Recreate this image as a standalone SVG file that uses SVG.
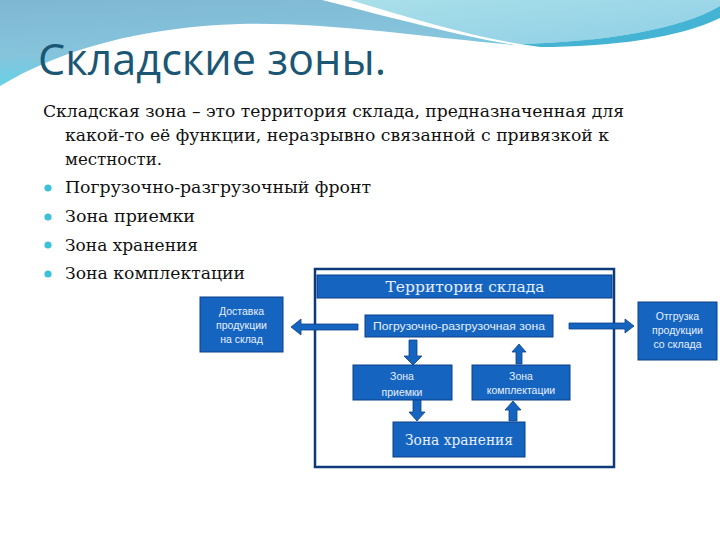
<svg xmlns="http://www.w3.org/2000/svg" width="720" height="540" viewBox="0 0 720 540">
<defs>
<linearGradient id="gLeft" x1="0" y1="0" x2="0.3" y2="1">
<stop offset="0" stop-color="#7fb7d2"/>
<stop offset="0.6" stop-color="#86c4dc"/>
<stop offset="1" stop-color="#5fd3e8"/>
</linearGradient>
<linearGradient id="gRight" x1="0" y1="0" x2="1" y2="1">
<stop offset="0" stop-color="#a9dfe9"/>
<stop offset="1" stop-color="#8fcfe6"/>
</linearGradient>
<style>
.title{font-family:"Open Sans","Liberation Sans",sans-serif;font-size:44px;fill:#1b5774}
.body{font-family:"DejaVu Serif","Liberation Serif",serif;font-size:17.5px;fill:#111}
.bul{fill:#3cc1d8}
.box{fill:#1565c0;stroke:#0c3f8a;stroke-width:1}
.arr{fill:#1565c0;stroke:#0c3f8a;stroke-width:0.8}
.lbl{font-family:"Liberation Sans","Open Sans",sans-serif;font-size:10.5px;fill:#e6efff;text-anchor:middle}
.lblb{font-family:"DejaVu Serif","Liberation Serif",serif;font-size:14px;fill:#e6efff;text-anchor:middle}
.frame{fill:#fff;stroke:#0d3b7a;stroke-width:2.5}
</style>
</defs>
<rect width="720" height="540" fill="#fff"/>
<!-- header waves -->
<path d="M0,0 H322 C400,20 465,37 515,45 C430,38 330,22 240,24 C140,27 60,50 0,86 Z" fill="url(#gLeft)"/>
<path d="M350,0 H720 V6 C680,30 600,42 520,44 C470,36 410,18 350,0 Z" fill="url(#gRight)"/>
<path d="M520,44 C600,42 680,30 720,6 V18 C680,38 610,47 540,47 Z" fill="#45b3d3"/>
<text class="title" x="38" y="75" textLength="348" lengthAdjust="spacingAndGlyphs">Складские зоны.</text>
<g id="body-text">
<text class="body" x="43" y="117" textLength="581" lengthAdjust="spacingAndGlyphs">Складская зона – это территория склада,  предназначенная для</text>
<text class="body" x="65" y="141" textLength="544" lengthAdjust="spacingAndGlyphs">какой-то её функции, неразрывно связанной с привязкой к</text>
<text class="body" x="65" y="165" textLength="97" lengthAdjust="spacingAndGlyphs">местности.</text>
<circle class="bul" cx="48" cy="188" r="3.6"/>
<text class="body" x="65" y="193" textLength="306" lengthAdjust="spacingAndGlyphs">Погрузочно-разгрузочный фронт</text>
<circle class="bul" cx="48" cy="217" r="3.6"/>
<text class="body" x="65" y="222" textLength="130" lengthAdjust="spacingAndGlyphs">Зона приемки</text>
<circle class="bul" cx="48" cy="245" r="3.6"/>
<text class="body" x="65" y="251" textLength="133" lengthAdjust="spacingAndGlyphs">Зона хранения</text>
<circle class="bul" cx="48" cy="274" r="3.6"/>
<text class="body" x="65" y="279" textLength="180" lengthAdjust="spacingAndGlyphs">Зона комплектации</text>
</g>
<g id="territory">
<rect class="frame" x="315" y="269" width="299" height="198"/>
<rect class="box" x="317" y="275" width="295" height="23"/>
<text class="lblb" x="465" y="292" textLength="159" lengthAdjust="spacingAndGlyphs">Территория склада</text>
</g>
<g id="delivery">
<rect class="box" x="200" y="297" width="83" height="55"/>
<text class="lbl" x="241.5" y="315">Доставка</text>
<text class="lbl" x="241.5" y="329">продукции</text>
<text class="lbl" x="241.5" y="343">на склад</text>
</g>
<g id="shipment">
<rect class="box" x="638" y="302" width="79" height="58"/>
<text class="lbl" x="677.5" y="320">Отгрузка</text>
<text class="lbl" x="677.5" y="334">продукции</text>
<text class="lbl" x="677.5" y="348">со склада</text>
</g>
<g id="loading">
<rect class="box" x="365" y="315" width="188" height="22"/>
<text class="lbl" x="459" y="330" textLength="172" lengthAdjust="spacingAndGlyphs">Погрузочно-разгрузочная зона</text>
</g>
<g id="receiving">
<rect class="box" x="353" y="365" width="99" height="35"/>
<text class="lbl" x="402" y="380">Зона</text>
<text class="lbl" x="402" y="396">приемки</text>
</g>
<g id="picking">
<rect class="box" x="472" y="365" width="98" height="35"/>
<text class="lbl" x="521" y="380">Зона</text>
<text class="lbl" x="521" y="394">комплектации</text>
</g>
<g id="storage">
<rect class="box" x="393" y="422" width="132" height="35"/>
<text class="lblb" x="459" y="445" textLength="108" lengthAdjust="spacingAndGlyphs">Зона хранения</text>
</g>
<g id="connectors">
<polygon class="arr" points="358,324 301,324 301,319 291,327 301,335 301,330 358,330"/>
<polygon class="arr" points="569,323 625,323 625,319 634,326 625,333 625,329 569,329"/>
<polygon class="arr" points="409,340 417,340 417,356 422,356 413,365 404,356 409,356"/>
<polygon class="arr" points="413,400 421,400 421,412 425,412 417,421 409,412 413,412"/>
<polygon class="arr" points="516,364 522,364 522,352 526,352 519,344 512,352 516,352"/>
<polygon class="arr" points="509,421 517,421 517,410 521,410 513,401 505,410 509,410"/>
</g>
</svg>
